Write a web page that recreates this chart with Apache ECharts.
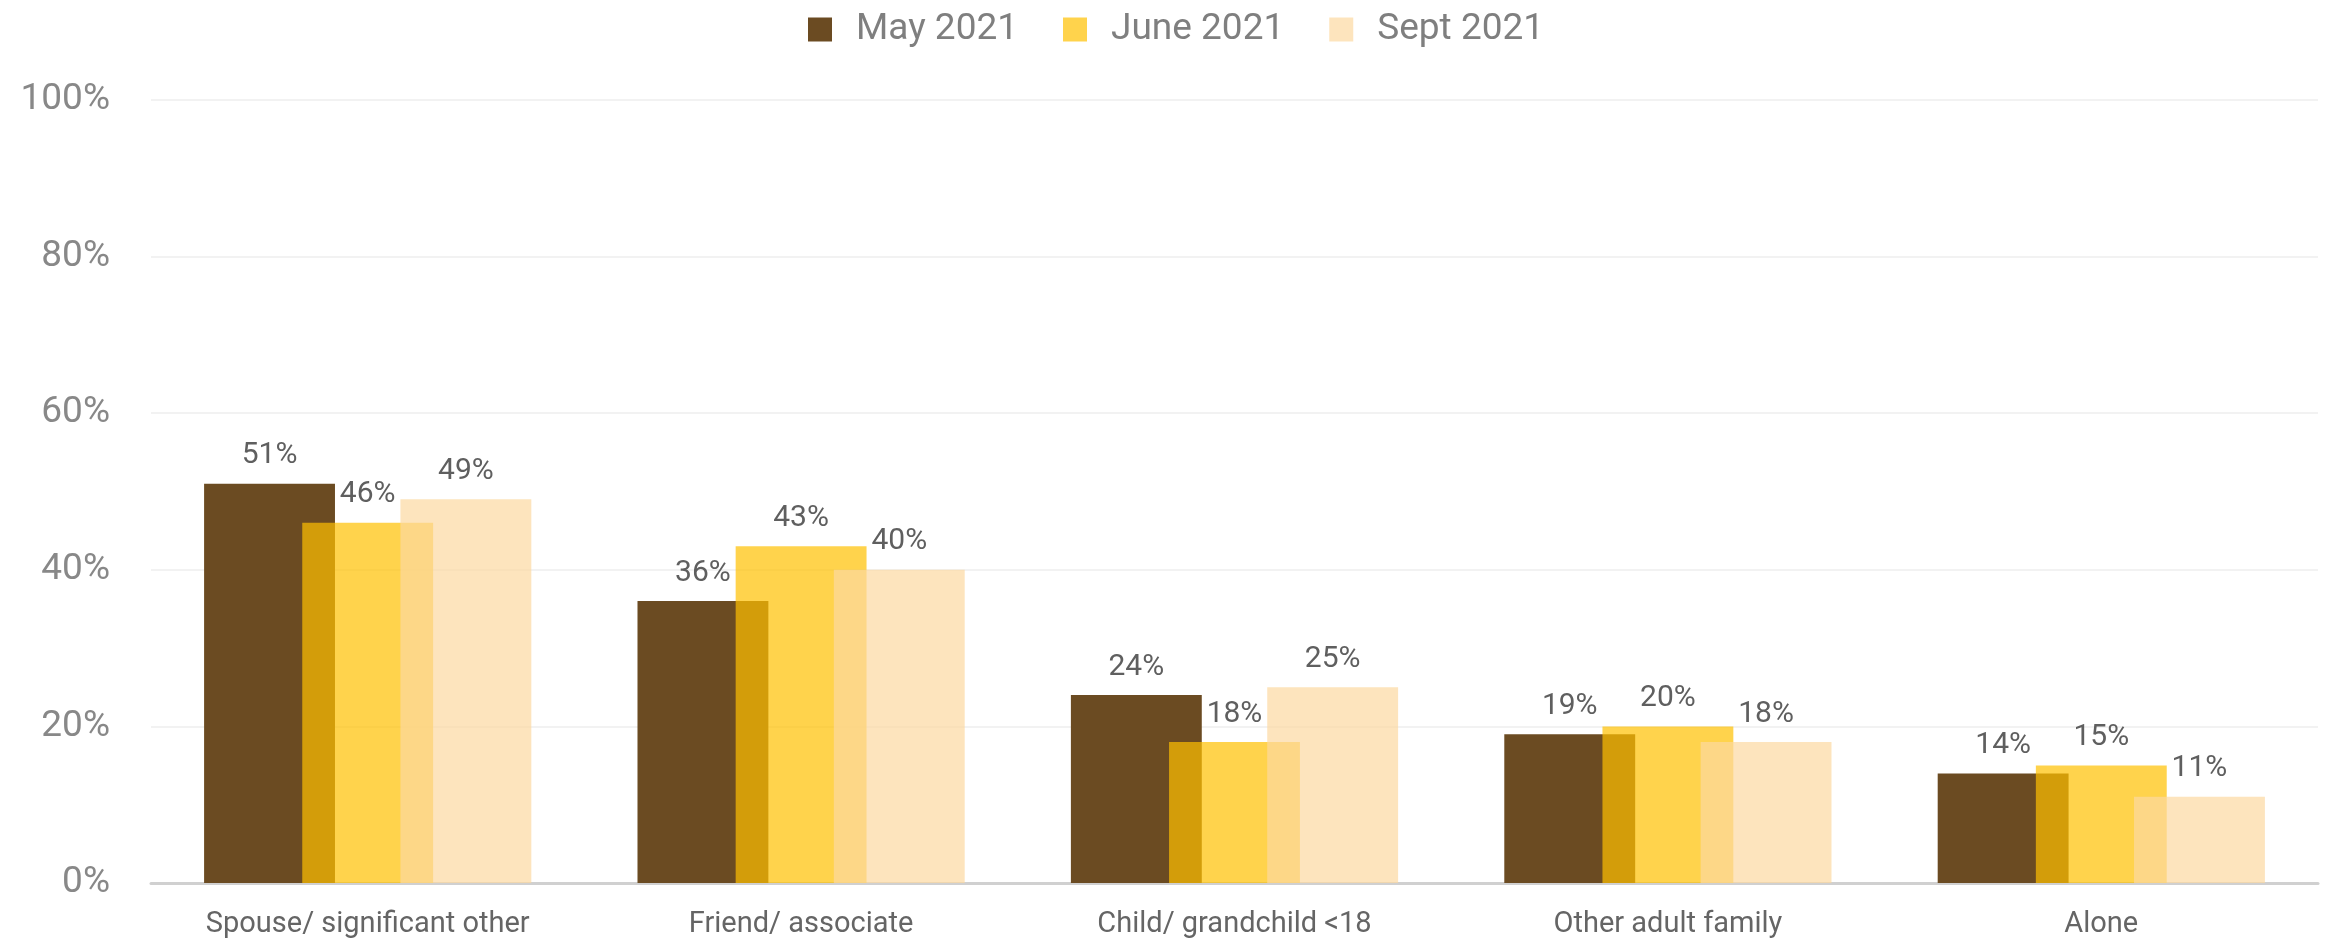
<!DOCTYPE html>
<html>
<head>
<meta charset="utf-8">
<title>Who respondents were with</title>
<script src="https://cdn.jsdelivr.net/npm/echarts@6/dist/echarts.min.js"></script>
<style>
  html, body { margin: 0; padding: 0; background: #ffffff; }
  #chart { width: 2328px; height: 944px; }
</style>
</head>
<body>
<div id="chart"></div>
<script>
// Categories along the x axis
const categories = ['Spouse/ significant other', 'Friend/ associate', 'Child/ grandchild <18', 'Other adult family', 'Alone'];

// Survey waves (percent of respondents)
const seriesNames = ['May 2021', 'June 2021', 'Sept 2021'];
const may2021 = [51, 36, 24, 19, 14];
const june2021 = [46, 43, 18, 20, 15];
const sept2021 = [49, 40, 25, 18, 11];

// Value axis ticks
const yMin = 0;
const yMax = 100;
const yStep = 20;

const FONT = 'Roboto, "Noto Sans", "Liberation Sans", sans-serif';
const colors = ['#6b4b22', 'rgba(255,192,0,0.7)', 'rgba(252,216,161,0.7)'];

function barSeries(name, data, color) {
  return {
    name: name,
    type: 'bar',
    data: data,
    barWidth: '30.2%',
    barGap: '-25%',
    itemStyle: { color: color },
    label: {
      show: true,
      position: 'top',
      distance: 13,
      formatter: p => p.value + '%',
      color: '#5f5f5f',
      fontFamily: FONT,
      fontSize: 30
    }
  };
}

const chart = echarts.init(document.getElementById('chart'), null, { renderer: 'canvas' });
chart.setOption({
  animation: false,
  backgroundColor: '#ffffff',
  color: colors,
  legend: {
    data: seriesNames,
    left: 803,
    top: 6,
    icon: 'rect',
    itemWidth: 24,
    itemHeight: 24,
    itemGap: 45,
    textStyle: {
      color: '#7f7f7f',
      fontFamily: FONT,
      fontSize: 37,
      padding: [0, 0, 0, 19]
    }
  },
  grid: {
    left: 151,
    right: 10,
    top: 100,
    bottom: 61,
    containLabel: false
  },
  xAxis: {
    type: 'category',
    data: categories,
    axisLine: { show: true, lineStyle: { color: '#d0d0d0', width: 3 } },
    axisTick: { show: false },
    axisLabel: {
      color: '#656565',
      fontFamily: FONT,
      fontSize: 29,
      margin: 27,
      interval: 0
    }
  },
  yAxis: {
    type: 'value',
    min: yMin,
    max: yMax,
    interval: yStep,
    axisLine: { show: false },
    axisTick: { show: false },
    splitLine: { lineStyle: { color: '#f2f2f2', width: 2 } },
    axisLabel: {
      formatter: '{value}%',
      color: '#888888',
      fontFamily: FONT,
      fontSize: 37,
      margin: 41
    }
  },
  series: [
    barSeries(seriesNames[0], may2021, colors[0]),
    barSeries(seriesNames[1], june2021, colors[1]),
    barSeries(seriesNames[2], sept2021, colors[2])
  ]
});
</script>
</body>
</html>
